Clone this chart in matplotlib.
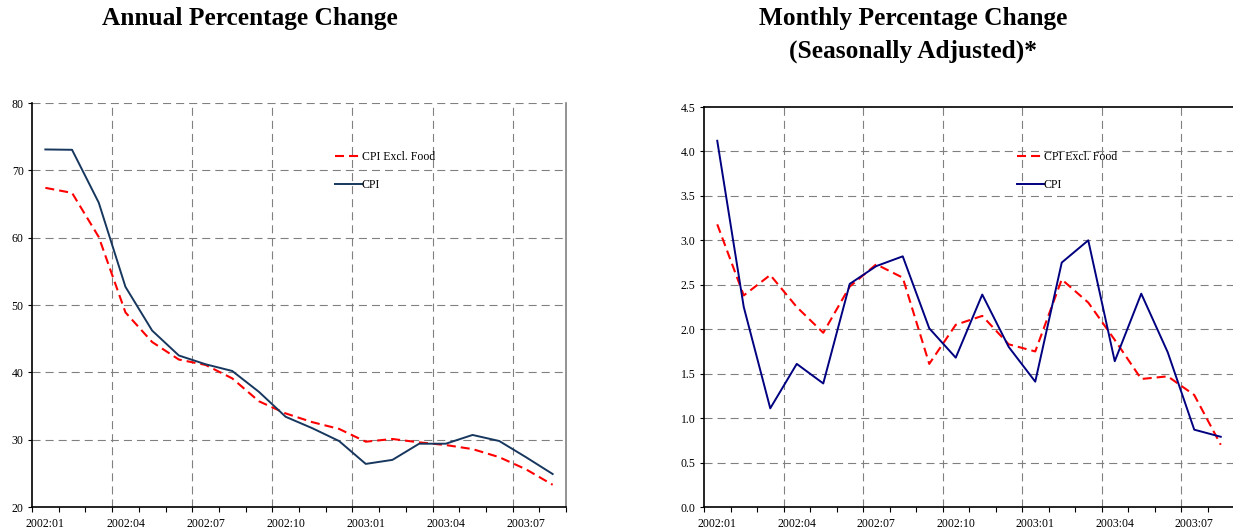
import numpy as np
import matplotlib
matplotlib.use("Agg")
import matplotlib.pyplot as plt

plt.rcParams['font.family'] = ['Liberation Serif', 'DejaVu Serif']
plt.rcParams['lines.scale_dashes'] = False

months = ["2002:01", "2002:02", "2002:03", "2002:04", "2002:05", "2002:06",
          "2002:07", "2002:08", "2002:09", "2002:10", "2002:11", "2002:12",
          "2003:01", "2003:02", "2003:03", "2003:04", "2003:05", "2003:06",
          "2003:07", "2003:08"]

annual_cpi = [73.1, 73.05, 65.2, 52.7, 46.2, 42.5, 41.2, 40.2, 37.1, 33.4,
              31.7, 29.8, 26.4, 27.0, 29.4, 29.4, 30.7, 29.8, 27.4, 24.9]
annual_excl_food = [67.4, 66.65, 60.1, 48.9, 44.5, 41.9, 41.1, 39.1, 35.7, 33.9,
                    32.6, 31.6, 29.7, 30.1, 29.6, 29.2, 28.6, 27.4, 25.6, 23.3]

monthly_cpi = [4.12, 2.25, 1.11, 1.61, 1.39, 2.51, 2.71, 2.82, 2.01, 1.68,
               2.39, 1.80, 1.41, 2.75, 3.00, 1.64, 2.40, 1.74, 0.87, 0.79]
monthly_excl_food = [3.18, 2.38, 2.61, 2.25, 1.96, 2.48, 2.73, 2.58, 1.61, 2.05,
                     2.15, 1.83, 1.75, 2.56, 2.30, 1.88, 1.44, 1.47, 1.26, 0.70]

annual_yticks = [20, 30, 40, 50, 60, 70, 80]
monthly_yticks = [0.0, 0.5, 1.0, 1.5, 2.0, 2.5, 3.0, 3.5, 4.0, 4.5]

W, H = 1233, 531
fig = plt.figure(figsize=(W / 100, H / 100), dpi=100)

GRID = dict(color="#808080", linewidth=0.8, linestyle=(0, (5.8, 3.6)))
RED = "#FF0000"
FS = 8.5


def setup(ax, yticks, yfmt, cpi_color, cpi, excl, top_grid):
    n = len(months)
    x = np.arange(n) + 0.5
    ax.plot(x, excl, color=RED, linewidth=1.5, linestyle=(0, (6.5, 3.6)),
            label="CPI Excl. Food", zorder=3)
    ax.plot(x, cpi, color=cpi_color, linewidth=1.4, label="CPI", zorder=3)
    ax.set_xlim(0, n)
    ax.set_ylim(yticks[0], yticks[-1])
    # y axis
    ax.set_yticks(yticks)
    ax.set_yticklabels([yfmt.format(v) for v in yticks], fontsize=FS)
    ax.tick_params(axis="y", direction="out", length=3, width=0.8, pad=3)
    grid_y = yticks[1:] if top_grid else yticks[1:-1]
    for v in grid_y:
        ax.axhline(v, zorder=1, **GRID)
    # x axis: boundary ticks, labels at category centres every 3 months
    ax.set_xticks(np.arange(0, n + 1), minor=False)
    ax.set_xticklabels([])
    ax.tick_params(axis="x", which="major", direction="out", length=3.5, width=0.8)
    for b in range(3, n, 3):
        ax.axvline(b, zorder=1, **GRID)
    sec = ax.secondary_xaxis("bottom")
    sec.set_xticks(x[::3])
    sec.set_xticklabels(months[::3], fontsize=FS)
    sec.tick_params(length=0, pad=8)
    sec.spines["bottom"].set_visible(False)
    leg = ax.legend(frameon=False, fontsize=FS, handlelength=2.3,
                    handletextpad=0.0, labelspacing=1.35, borderpad=0,
                    borderaxespad=0)
    return leg


# Left: annual
ax1 = fig.add_axes([32 / W, 24 / H, 534 / W, 404 / H])
leg1 = setup(ax1, annual_yticks, "{:.0f}", "#17375E", annual_cpi, annual_excl_food, True)
leg1.set_bbox_to_anchor((0.567, 0.880), transform=ax1.transAxes)
leg1._loc = 2
ax1.spines["top"].set_visible(False)
ax1.spines["right"].set_color("#808080")
ax1.spines["right"].set_linewidth(1.2)
ax1.spines["left"].set_linewidth(1.2)
ax1.spines["bottom"].set_linewidth(1.2)

# Right: monthly
ax2 = fig.add_axes([704 / W, 24 / H, 530 / W, 400 / H])
leg2 = setup(ax2, monthly_yticks, "{:.1f}", "#000080", monthly_cpi, monthly_excl_food, False)
leg2.set_bbox_to_anchor((0.59, 0.89), transform=ax2.transAxes)
leg2._loc = 2
for s in ax2.spines.values():
    s.set_linewidth(1.2)

fig.text(249.5 / W, 1 - 25 / H, "Annual Percentage Change", ha="center", va="baseline",
         fontsize=18.3, fontweight="bold")
fig.text(913 / W, 1 - 25 / H, "Monthly Percentage Change", ha="center", va="baseline",
         fontsize=18.3, fontweight="bold")
fig.text(913 / W, 1 - 58 / H, "(Seasonally Adjusted)*", ha="center", va="baseline",
         fontsize=18.3, fontweight="bold")

fig.savefig("out.png", dpi=100)
